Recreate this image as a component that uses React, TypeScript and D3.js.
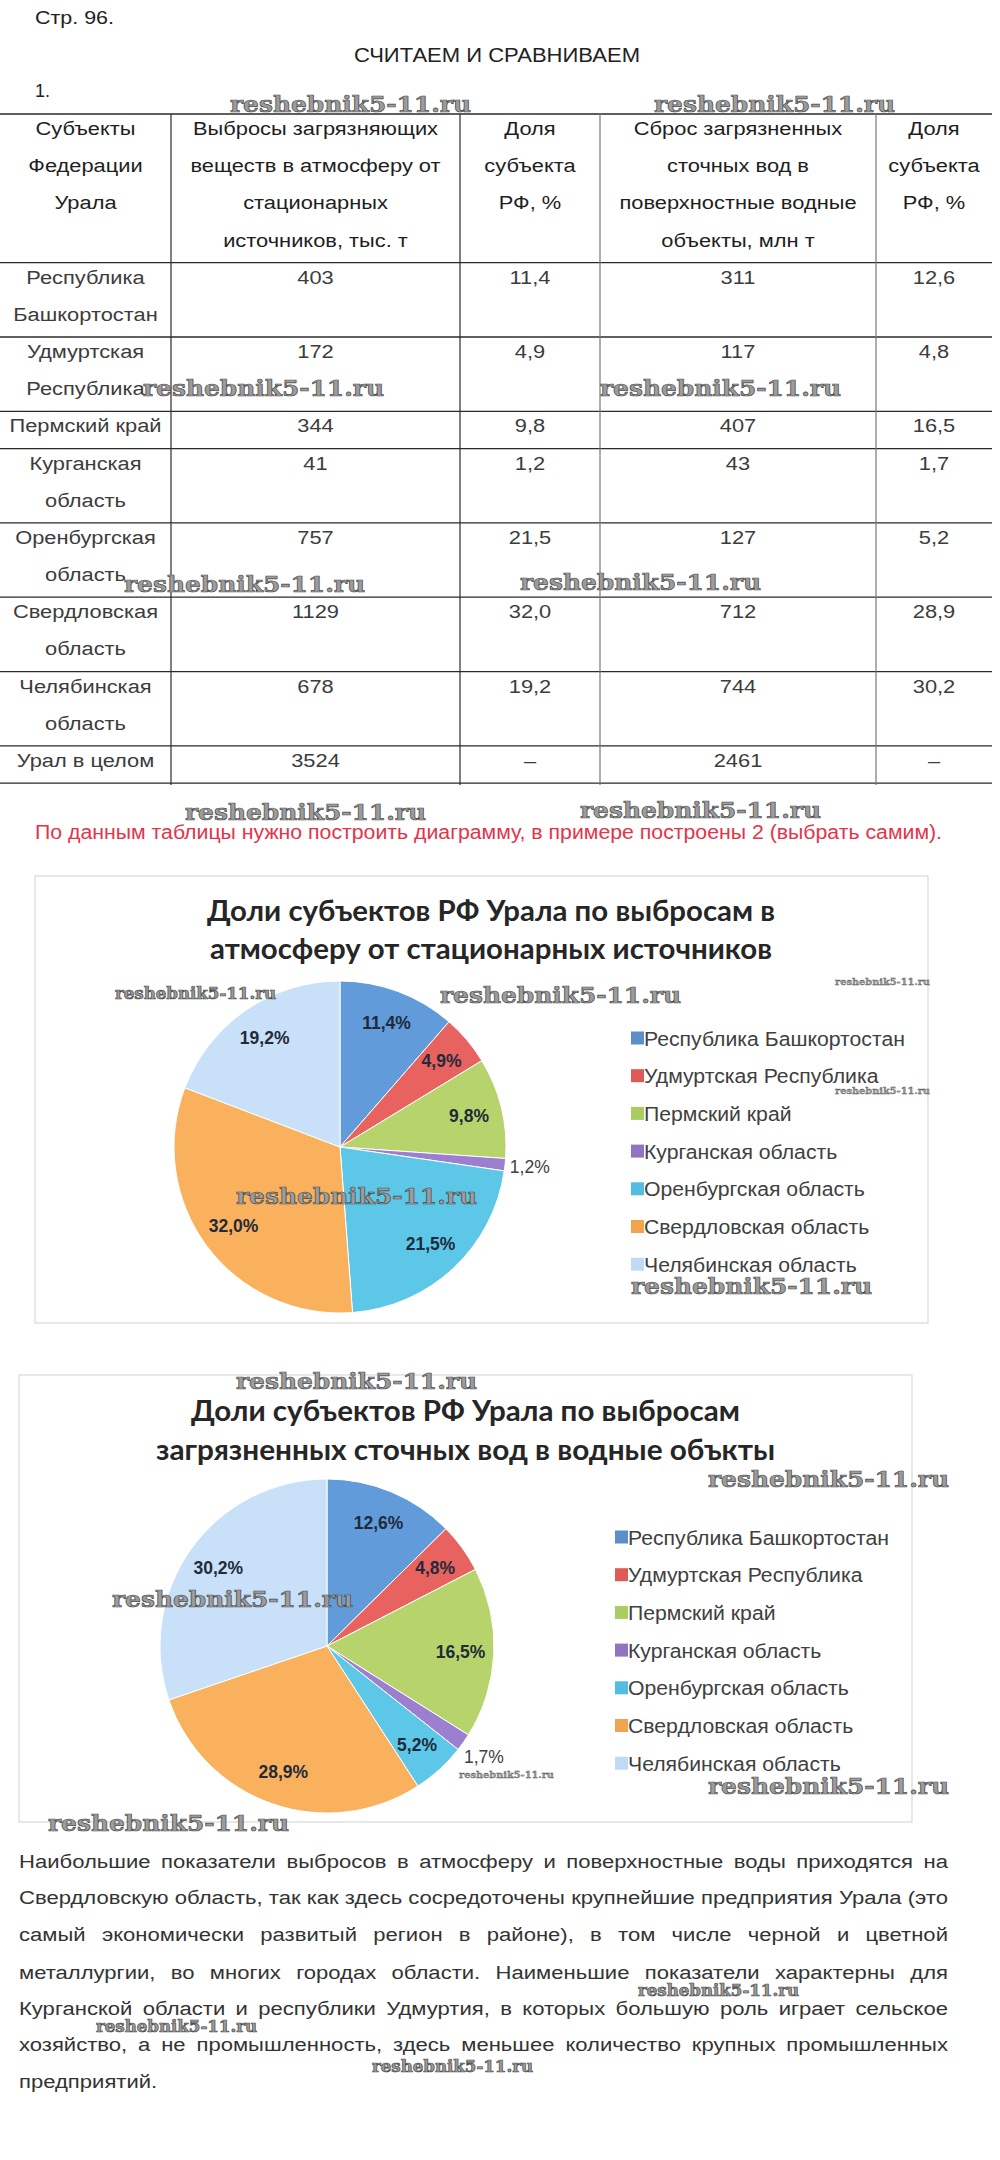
import React, { useEffect, useRef } from 'react';
import * as d3 from 'd3';

// Table data (Урал)
const regions = [
  'Республика Башкортостан',
  'Удмуртская Республика',
  'Пермский край',
  'Курганская область',
  'Оренбургская область',
  'Свердловская область',
  'Челябинская область'
];
const regionLines = [
  ['Республика', 'Башкортостан'],
  ['Удмуртская', 'Республика'],
  ['Пермский край'],
  ['Курганская', 'область'],
  ['Оренбургская', 'область'],
  ['Свердловская', 'область'],
  ['Челябинская', 'область']
];
const airTonnes = [403, 172, 344, 41, 757, 1129, 678];
const airShare = [11.4, 4.9, 9.8, 1.2, 21.5, 32.0, 19.2];
const waterTonnes = [311, 117, 407, 43, 127, 712, 744];
const waterShare = [12.6, 4.8, 16.5, 1.7, 5.2, 28.9, 30.2];
const totalName = ['Урал в целом'];
const airTotal = 3524;
const waterTotal = 2461;

const headerCells = [
  ['Субъекты', 'Федерации', 'Урала'],
  ['Выбросы загрязняющих', 'веществ в атмосферу от', 'стационарных', 'источников, тыс. т'],
  ['Доля', 'субъекта', 'РФ, %'],
  ['Сброс загрязненных', 'сточных вод в', 'поверхностные водные', 'объекты, млн т'],
  ['Доля', 'субъекта', 'РФ, %']
];

const chartTitles = [
  ['Доли субъектов РФ Урала по выбросам в', 'атмосферу от стационарных источников'],
  ['Доли субъектов РФ Урала по выбросам', 'загрязненных сточных вод в водные объкты']
];

const sliceColors = ['#619bda', '#e8625f', '#b6d46b', '#9c7fd0', '#5dc7e8', '#f9b15d', '#c9e0f9'];
const legendColors = ['#5a8fcb', '#e05a55', '#a9cd62', '#8f74c2', '#52bde0', '#f0a44f', '#c0daf5'];

const paragraph = [
  'Наибольшие показатели выбросов в атмосферу и поверхностные воды приходятся на',
  'Свердловскую область, так как здесь сосредоточены крупнейшие предприятия Урала (это',
  'самый экономически развитый регион в районе), в том числе черной и цветной',
  'металлургии, во многих городах области. Наименьшие показатели характерны для',
  'Курганской области и республики Удмуртия, в которых большую роль играет сельское',
  'хозяйство, а не промышленность, здесь меньшее количество крупных промышленных',
  'предприятий.'
];

const WATERMARK = 'reshebnik5-11.ru';
// watermark stamps: left, baseline, kind
const stamps: [number, number, string][] = [
  [230, 112, 'L'], [654, 112, 'L'], [143, 396, 'L'], [600, 396, 'L'],
  [124, 592, 'L'], [520, 590, 'L'], [185, 820, 'L'], [580, 818, 'L'],
  [115, 999, 'M'], [440, 1003, 'L'], [835, 985, 'S'], [835, 1094, 'S'],
  [236, 1204, 'L'], [631, 1294, 'L'], [236, 1389, 'L'], [708, 1487, 'L'],
  [112, 1607, 'L'], [459, 1778, 'S'], [708, 1794, 'L'], [48, 1831, 'L'],
  [638, 1996, 'M'], [96, 2032, 'M'], [372, 2072, 'M']
];

const FONT = '"Liberation Sans", Arial, sans-serif';
const fmt = (v: number) => v.toFixed(1).replace('.', ',');

type TxtOpts = {
  size: number; weight?: string; fill?: string; anchor?: string;
  sx?: number; family?: string; len?: number;
};

function txt(parent: any, x: number, y: number, s: string, o: TxtOpts) {
  const t = parent.append('text')
    .attr('transform', `translate(${x},${y}) scale(${o.sx ?? 1},1)`)
    .attr('text-anchor', o.anchor ?? 'start')
    .style('font-family', o.family ?? FONT)
    .style('font-size', `${o.size}px`)
    .style('font-weight', o.weight ?? 'normal')
    .attr('fill', o.fill ?? '#333')
    .text(s);
  if (o.len) t.attr('textLength', o.len).attr('lengthAdjust', 'spacingAndGlyphs');
  return t;
}

const App: React.FC = () => {
  const svgRef = useRef<SVGSVGElement>(null);

  useEffect(() => {
    document.body.style.margin = '0';
    const svg = d3.select(svgRef.current);
    svg.selectAll('*').remove();
    svg.append('rect').attr('width', 1000).attr('height', 2160).attr('fill', '#fff');

    // Heading
    txt(svg, 35, 24, 'Стр. 96.', { size: 18, fill: '#222', len: 79 });
    txt(svg, 354, 62, 'СЧИТАЕМ И СРАВНИВАЕМ', { size: 20, fill: '#222', len: 286 });
    txt(svg, 35, 97, '1.', { size: 18, fill: '#222' });

    // Table
    const colX = [0, 171, 460, 600, 876, 992];
    const colMid = colX.slice(0, 5).map((x, i) => (x + colX[i + 1]) / 2);
    const top = 114;
    const lineH = 37.17;
    const tsx = 1.15;
    const tg = svg.append('g');

    const rows = regionLines.map((name, i) => ({
      cells: [name, [String(airTonnes[i])], [fmt(airShare[i])], [String(waterTonnes[i])], [fmt(waterShare[i])]],
      lines: name.length
    }));
    rows.push({ cells: [totalName, [String(airTotal)], ['–'], [String(waterTotal)], ['–']], lines: 1 });

    const bounds = [top];
    let y = top + 4 * lineH;
    bounds.push(y);
    rows.forEach(r => { y += r.lines * lineH; bounds.push(y); });

    headerCells.forEach((lines, c) => {
      lines.forEach((s, k) => txt(tg, colMid[c], top + 21 + k * lineH, s, { size: 19, fill: '#1e1e1e', anchor: 'middle', sx: tsx }));
    });
    rows.forEach((r, i) => {
      r.cells.forEach((lines, c) => {
        lines.forEach((s, k) => txt(tg, colMid[c], bounds[i + 1] + 21 + k * lineH, s, { size: 19, fill: '#3c3c3c', anchor: 'middle', sx: tsx }));
      });
    });
    bounds.forEach(b => {
      tg.append('line').attr('x1', 0).attr('x2', 992).attr('y1', b).attr('y2', b)
        .attr('stroke', '#2a2a2a').attr('stroke-width', 1.3);
    });
    colX.slice(1, 5).forEach((x, i) => {
      tg.append('line').attr('x1', x).attr('x2', x).attr('y1', top).attr('y2', bounds[bounds.length - 1] + 2)
        .attr('stroke', i < 2 ? '#2a2a2a' : '#777').attr('stroke-width', 1.2);
    });

    txt(svg, 35, 839, 'По данным таблицы нужно построить диаграмму, в примере построены 2 (выбрать самим).',
      { size: 20, fill: '#e3344a', len: 907 });

    // Pie charts
    const charts = [
      { shares: airShare, box: [35, 876, 928, 1323], cx: 340, cy: 1147, r: 166,
        title: chartTitles[0], tx: [207, 210], tl: [568, 562], ty: [921, 959], lx: 631, ly: 1038 },
      { shares: waterShare, box: [19, 1375, 912, 1822], cx: 327, cy: 1646, r: 167,
        title: chartTitles[1], tx: [191, 156], tl: [549, 619], ty: [1421, 1460], lx: 615, ly: 1537 }
    ];

    charts.forEach(ch => {
      const g = svg.append('g');
      g.append('rect')
        .attr('x', ch.box[0]).attr('y', ch.box[1])
        .attr('width', ch.box[2] - ch.box[0]).attr('height', ch.box[3] - ch.box[1])
        .attr('fill', '#fff').attr('stroke', '#d9d9d9').attr('stroke-width', 1.2);

      ch.title.forEach((s, k) => txt(g, ch.tx[k], ch.ty[k], s,
        { size: 28, weight: 'bold', family: 'Lato, "Open Sans", sans-serif', fill: '#262626', len: ch.tl[k] }));

      const pie = d3.pie<number>().sort(null).value(d => d);
      const arcs = pie(ch.shares);
      const arc = d3.arc<d3.PieArcDatum<number>>().innerRadius(0).outerRadius(ch.r);
      const labelIn = d3.arc<d3.PieArcDatum<number>>().innerRadius(ch.r * 0.8).outerRadius(ch.r * 0.8);
      const labelOut = d3.arc<d3.PieArcDatum<number>>().innerRadius(ch.r * 1.15).outerRadius(ch.r * 1.15);

      const pg = g.append('g').attr('transform', `translate(${ch.cx},${ch.cy})`);
      pg.selectAll('path').data(arcs).enter().append('path')
        .attr('d', arc)
        .attr('fill', (_, i) => sliceColors[i])
        .attr('stroke', '#fff').attr('stroke-width', 1);

      arcs.forEach(a => {
        const small = a.data < 3;
        const [x, yy] = (small ? labelOut : labelIn).centroid(a);
        txt(pg, x, yy + 6, `${fmt(a.data)}%`, {
          size: 17.5, weight: small ? 'normal' : 'bold', fill: small ? '#404040' : '#1f2b3a', anchor: 'middle'
        });
      });

      const legendStep = 37.7;
      regions.forEach((name, i) => {
        const ry = ch.ly + i * legendStep;
        g.append('rect').attr('x', ch.lx).attr('y', ry - 6.5).attr('width', 13).attr('height', 13)
          .attr('fill', legendColors[i]);
        txt(g, ch.lx + 13, ry + 7.5, name, { size: 21, fill: '#404040', sx: 1.01 });
      });
    });

    // Paragraph (justified)
    const px0 = 19;
    const pw = 929;
    const measure = (s: string) => {
      const t = svg.append('text').style('font-family', FONT).style('font-size', '19px').text(s);
      const w = (t.node() as SVGTextElement).getComputedTextLength();
      t.remove();
      return w;
    };
    const psx = pw / measure(paragraph[1]);
    const pBase = [1868, 1904, 1941, 1979, 2015, 2051, 2088];
    paragraph.forEach((line, li) => {
      if (li === paragraph.length - 1) {
        txt(svg, px0, pBase[li], line, { size: 19, fill: '#333', sx: psx });
        return;
      }
      const words = line.split(' ');
      const widths = words.map(w => measure(w) * psx);
      const gap = (pw - d3.sum(widths)) / (words.length - 1);
      let x = px0;
      words.forEach((w, k) => {
        txt(svg, x, pBase[li], w, { size: 19, fill: '#333', sx: psx });
        x += widths[k] + gap;
      });
    });

    // Watermarks
    const wmSize: Record<string, [number, number]> = { L: [23, 241], M: [16, 161], S: [9.5, 95] };
    stamps.forEach(([x, yb, kind]) => {
      const [size, len] = wmSize[kind];
      txt(svg, x, yb, WATERMARK, { size, weight: 'bold', family: '"DejaVu Serif", serif', fill: '#9c9c9c', len })
        .attr('stroke', '#4a4a4a').attr('stroke-width', kind === 'S' ? 0.3 : 0.7);
    });
  }, []);

  return (
    <div>
      <svg ref={svgRef} width={1000} height={2160} style={{ display: 'block' }}></svg>
    </div>
  );
};

export default App;
